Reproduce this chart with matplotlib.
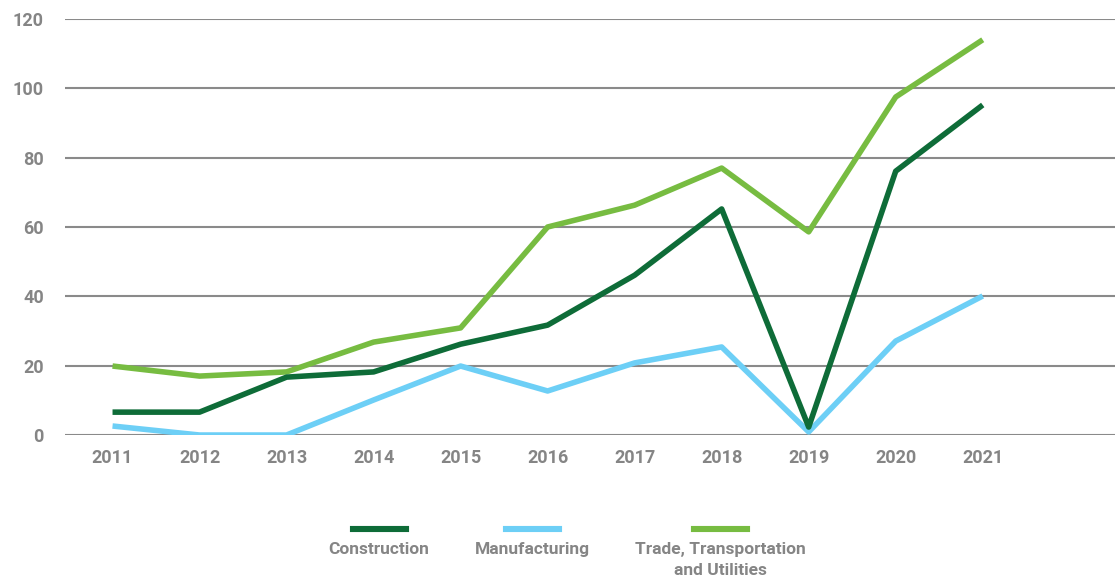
import matplotlib.pyplot as plt
from matplotlib.lines import Line2D

plt.rcParams["font.family"] = ["Roboto", "DejaVu Sans"]

years = [2011, 2012, 2013, 2014, 2015, 2016, 2017, 2018, 2019, 2020, 2021]
construction = [6.6, 6.6, 16.7, 18.2, 26.2, 31.7, 46.1, 65.2, 2.3, 76.1, 95.2]
manufacturing = [2.6, 0, 0, 10.1, 19.9, 12.7, 20.8, 25.4, 0.9, 27.1, 40.1]
trade = [19.9, 17.0, 18.2, 26.8, 30.9, 60.0, 66.3, 77.0, 58.6, 97.5, 114.0]

labels = ["Construction", "Manufacturing", "Trade, Transportation\nand Utilities"]
colors = ["#0e6c38", "#6dcff6", "#77bc41"]
series = [construction, manufacturing, trade]

TEXT = "#858585"
GRID = "#8a8a8a"

fig = plt.figure(figsize=(11.15, 5.84), dpi=100)
ax = fig.add_axes([0.058, 0.2551, 0.942, 0.7124])

for vals, c in zip(series[::-1], colors[::-1]):
    ax.plot(years, vals, color=c, lw=4, solid_capstyle="butt", zorder=3)

ax.set_xlim(2010.45, 2022.52)
ax.set_ylim(0, 120)
ax.set_yticks(range(0, 121, 20))
ax.set_xticks(years)
ax.grid(axis="y", color=GRID, lw=1.5)
ax.set_axisbelow(True)
for s in ax.spines.values():
    s.set_visible(False)
ax.tick_params(length=0, labelsize=13, labelcolor=TEXT)
ax.tick_params(axis="x", pad=10)
ax.tick_params(axis="y", pad=15)
for t in ax.get_xticklabels() + ax.get_yticklabels():
    t.set_fontweight("bold")

# legend: swatch above the label
centers = [379, 532, 720]
for cx, c, lab in zip(centers, colors, labels):
    x0 = (cx - 26.5) / 1115
    x1 = (cx + 26.5) / 1115
    y = 1 - 529 / 584
    fig.add_artist(Line2D([x0, x1], [y, y], color=c, lw=4.4, transform=fig.transFigure))
    fig.text(cx / 1115, 1 - 542 / 584, lab, ha="center", va="top", color=TEXT,
             fontsize=12.5, fontweight="bold", linespacing=1.5)

fig.savefig("out.png", dpi=100)
